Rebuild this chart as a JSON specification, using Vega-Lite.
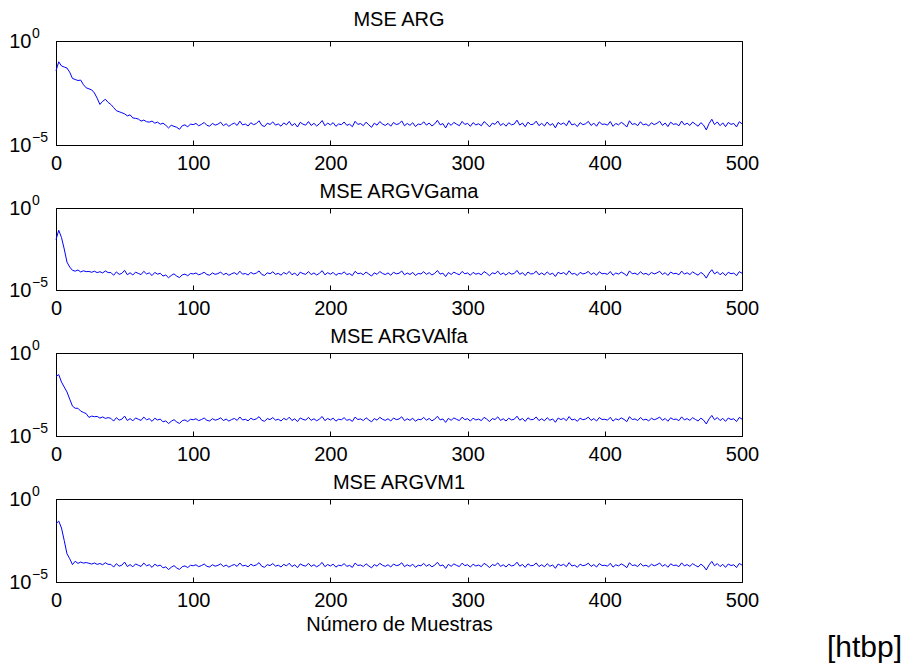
{
  "$schema": "https://vega.github.io/schema/vega-lite/v6.json",
  "padding": {"left": 8, "top": 9, "right": 0, "bottom": 0},
  "bounds": "flush",
  "spacing": 63,
  "title": {"text": "[htbp]", "orient": "bottom", "anchor": "end", "frame": "group", "fontSize": 30, "baseline": "alphabetic", "offset": 22, "dx": 160},
  "datasets": {
    "mse": [
      {"x":0,"a":0.0372,"b":0.012,"c":0.0389,"d":0.0324},
      {"x":2,"a":0.1,"b":0.0437,"c":0.0501,"d":0.0468},
      {"x":4,"a":0.0631,"b":0.0158,"c":0.0178,"d":0.0178},
      {"x":6,"a":0.0562,"b":0.00316,"c":0.00891,"d":0.00316},
      {"x":8,"a":0.0501,"b":0.000501,"c":0.00447,"d":0.000501},
      {"x":10,"a":0.0316,"b":0.000251,"c":0.00166,"d":0.000251},
      {"x":12,"a":0.0158,"b":0.000158,"c":0.000631,"d":0.000112},
      {"x":14,"a":0.0141,"b":0.000141,"c":0.000468,"d":0.000178},
      {"x":16,"a":0.0126,"b":0.000166,"c":0.000468,"d":0.000132},
      {"x":18,"a":0.0132,"b":0.000126,"c":0.000316,"d":0.000158},
      {"x":20,"a":0.00794,"b":0.000148,"c":0.000263,"d":0.000138},
      {"x":22,"a":0.00562,"b":0.000132,"c":0.000224,"d":0.000148},
      {"x":24,"a":0.00501,"b":0.000135,"c":0.000132,"d":0.000135},
      {"x":26,"a":0.00447,"b":0.00012,"c":0.000158,"d":0.00012},
      {"x":28,"a":0.00316,"b":0.00014,"c":0.000145,"d":0.00014},
      {"x":30,"a":0.00178,"b":0.000115,"c":0.000151,"d":0.000115},
      {"x":32,"a":0.000891,"b":0.00013,"c":0.00012,"d":0.00013},
      {"x":34,"a":0.00126,"b":0.00011,"c":0.000141,"d":0.00011},
      {"x":36,"a":0.00158,"b":0.000145,"c":0.000115,"d":0.000145},
      {"x":38,"a":0.00112,"b":0.000115,"c":0.000128,"d":0.000115},
      {"x":40,"a":0.000891,"b":1.16e-4,"c":1.16e-4,"d":1.16e-4},
      {"x":42,"a":0.000631,"b":7.9e-5,"c":7.9e-5,"d":7.9e-5},
      {"x":44,"a":0.000447,"b":1.27e-4,"c":1.27e-4,"d":1.27e-4},
      {"x":46,"a":0.000398,"b":9.0e-5,"c":9.0e-5,"d":9.0e-5},
      {"x":48,"a":0.000355,"b":1.03e-4,"c":1.03e-4,"d":1.03e-4},
      {"x":50,"a":0.000316,"b":1.58e-4,"c":1.58e-4,"d":1.58e-4},
      {"x":52,"a":0.000251,"b":8.5e-5,"c":8.5e-5,"d":8.5e-5},
      {"x":54,"a":0.000282,"b":1.12e-4,"c":1.12e-4,"d":1.12e-4},
      {"x":56,"a":0.0002,"b":8.2e-5,"c":8.2e-5,"d":8.2e-5},
      {"x":58,"a":0.000191,"b":1.23e-4,"c":1.23e-4,"d":1.23e-4},
      {"x":60,"a":0.000178,"b":1.02e-4,"c":1.02e-4,"d":1.02e-4},
      {"x":62,"a":0.000141,"b":8.7e-5,"c":8.7e-5,"d":8.7e-5},
      {"x":64,"a":0.000158,"b":1.38e-4,"c":1.38e-4,"d":1.38e-4},
      {"x":66,"a":0.000132,"b":9.5e-5,"c":9.5e-5,"d":9.5e-5},
      {"x":68,"a":0.000126,"b":1.1e-4,"c":1.1e-4,"d":1.1e-4},
      {"x":70,"a":0.000141,"b":7.6e-5,"c":7.6e-5,"d":7.6e-5},
      {"x":72,"a":0.000112,"b":1.18e-4,"c":1.18e-4,"d":1.18e-4},
      {"x":74,"a":0.000126,"b":9.2e-5,"c":9.2e-5,"d":9.2e-5},
      {"x":76,"a":0.0001,"b":1.05e-4,"c":1.05e-4,"d":1.05e-4},
      {"x":78,"a":0.000112,"b":7.1e-5,"c":7.1e-5,"d":7.1e-5},
      {"x":80,"a":8.9e-5,"b":8.2e-5,"c":8.2e-5,"d":8.2e-5},
      {"x":82,"a":6.6e-5,"b":5.6e-5,"c":5.6e-5,"d":5.6e-5},
      {"x":84,"a":8.9e-5,"b":7.7e-5,"c":7.7e-5,"d":7.7e-5},
      {"x":86,"a":7.9e-5,"b":9.7e-5,"c":9.7e-5,"d":9.7e-5},
      {"x":88,"a":7.1e-5,"b":7.0e-5,"c":7.0e-5,"d":7.0e-5},
      {"x":90,"a":5.7e-5,"b":5.7e-5,"c":5.7e-5,"d":5.7e-5},
      {"x":92,"a":8.4e-5,"b":8.4e-5,"c":8.4e-5,"d":8.4e-5},
      {"x":94,"a":9.3e-5,"b":9.3e-5,"c":9.3e-5,"d":9.3e-5},
      {"x":96,"a":7.4e-5,"b":7.4e-5,"c":7.4e-5,"d":7.4e-5},
      {"x":98,"a":1.02e-4,"b":1.02e-4,"c":1.02e-4,"d":1.02e-4},
      {"x":100,"a":9.5e-5,"b":9.5e-5,"c":9.5e-5,"d":9.5e-5},
      {"x":102,"a":1.09e-4,"b":1.09e-4,"c":1.09e-4,"d":1.09e-4},
      {"x":104,"a":8.4e-5,"b":8.4e-5,"c":8.4e-5,"d":8.4e-5},
      {"x":106,"a":9.8e-5,"b":9.8e-5,"c":9.8e-5,"d":9.8e-5},
      {"x":108,"a":1.21e-4,"b":1.21e-4,"c":1.21e-4,"d":1.21e-4},
      {"x":110,"a":8.8e-5,"b":8.8e-5,"c":8.8e-5,"d":8.8e-5},
      {"x":112,"a":8.0e-5,"b":8.0e-5,"c":8.0e-5,"d":8.0e-5},
      {"x":114,"a":1.1e-4,"b":1.1e-4,"c":1.1e-4,"d":1.1e-4},
      {"x":116,"a":9.0e-5,"b":9.0e-5,"c":9.0e-5,"d":9.0e-5},
      {"x":118,"a":1.0e-4,"b":1.0e-4,"c":1.0e-4,"d":1.0e-4},
      {"x":120,"a":1.25e-4,"b":1.25e-4,"c":1.25e-4,"d":1.25e-4},
      {"x":122,"a":8.5e-5,"b":8.5e-5,"c":8.5e-5,"d":8.5e-5},
      {"x":124,"a":1.05e-4,"b":1.05e-4,"c":1.05e-4,"d":1.05e-4},
      {"x":126,"a":7.9e-5,"b":7.9e-5,"c":7.9e-5,"d":7.9e-5},
      {"x":128,"a":9.8e-5,"b":9.8e-5,"c":9.8e-5,"d":9.8e-5},
      {"x":130,"a":1.14e-4,"b":1.14e-4,"c":1.14e-4,"d":1.14e-4},
      {"x":132,"a":8.7e-5,"b":8.7e-5,"c":8.7e-5,"d":8.7e-5},
      {"x":134,"a":1.4e-4,"b":1.4e-4,"c":1.4e-4,"d":1.4e-4},
      {"x":136,"a":9.2e-5,"b":9.2e-5,"c":9.2e-5,"d":9.2e-5},
      {"x":138,"a":1.02e-4,"b":1.02e-4,"c":1.02e-4,"d":1.02e-4},
      {"x":140,"a":8.2e-5,"b":8.2e-5,"c":8.2e-5,"d":8.2e-5},
      {"x":142,"a":1.18e-4,"b":1.18e-4,"c":1.18e-4,"d":1.18e-4},
      {"x":144,"a":9.5e-5,"b":9.5e-5,"c":9.5e-5,"d":9.5e-5},
      {"x":146,"a":1.07e-4,"b":1.07e-4,"c":1.07e-4,"d":1.07e-4},
      {"x":148,"a":1.46e-4,"b":1.46e-4,"c":1.46e-4,"d":1.46e-4},
      {"x":150,"a":8.8e-5,"b":8.8e-5,"c":8.8e-5,"d":8.8e-5},
      {"x":152,"a":7.7e-5,"b":7.7e-5,"c":7.7e-5,"d":7.7e-5},
      {"x":154,"a":1.12e-4,"b":1.12e-4,"c":1.12e-4,"d":1.12e-4},
      {"x":156,"a":9.7e-5,"b":9.7e-5,"c":9.7e-5,"d":9.7e-5},
      {"x":158,"a":1.29e-4,"b":1.29e-4,"c":1.29e-4,"d":1.29e-4},
      {"x":160,"a":9.0e-5,"b":9.0e-5,"c":9.0e-5,"d":9.0e-5},
      {"x":162,"a":1.03e-4,"b":1.03e-4,"c":1.03e-4,"d":1.03e-4},
      {"x":164,"a":8.0e-5,"b":8.0e-5,"c":8.0e-5,"d":8.0e-5},
      {"x":166,"a":1.16e-4,"b":1.16e-4,"c":1.16e-4,"d":1.16e-4},
      {"x":168,"a":9.3e-5,"b":9.3e-5,"c":9.3e-5,"d":9.3e-5},
      {"x":170,"a":1.36e-4,"b":1.36e-4,"c":1.36e-4,"d":1.36e-4},
      {"x":172,"a":8.5e-5,"b":8.5e-5,"c":8.5e-5,"d":8.5e-5},
      {"x":174,"a":1.09e-4,"b":1.09e-4,"c":1.09e-4,"d":1.09e-4},
      {"x":176,"a":7.3e-5,"b":7.3e-5,"c":7.3e-5,"d":7.3e-5},
      {"x":178,"a":1.23e-4,"b":1.23e-4,"c":1.23e-4,"d":1.23e-4},
      {"x":180,"a":1.0e-4,"b":1.0e-4,"c":1.0e-4,"d":1.0e-4},
      {"x":182,"a":9.0e-5,"b":9.0e-5,"c":9.0e-5,"d":9.0e-5},
      {"x":184,"a":1.33e-4,"b":1.33e-4,"c":1.33e-4,"d":1.33e-4},
      {"x":186,"a":8.7e-5,"b":8.7e-5,"c":8.7e-5,"d":8.7e-5},
      {"x":188,"a":1.1e-4,"b":1.1e-4,"c":1.1e-4,"d":1.1e-4},
      {"x":190,"a":8.2e-5,"b":8.2e-5,"c":8.2e-5,"d":8.2e-5},
      {"x":192,"a":1.05e-4,"b":1.05e-4,"c":1.05e-4,"d":1.05e-4},
      {"x":194,"a":1.5e-4,"b":1.5e-4,"c":1.5e-4,"d":1.5e-4},
      {"x":196,"a":8.4e-5,"b":8.4e-5,"c":8.4e-5,"d":8.4e-5},
      {"x":198,"a":1.14e-4,"b":1.14e-4,"c":1.14e-4,"d":1.14e-4},
      {"x":200,"a":9.2e-5,"b":9.2e-5,"c":9.2e-5,"d":9.2e-5},
      {"x":202,"a":1.19e-4,"b":1.19e-4,"c":1.19e-4,"d":1.19e-4},
      {"x":204,"a":7.9e-5,"b":7.9e-5,"c":7.9e-5,"d":7.9e-5},
      {"x":206,"a":1.03e-4,"b":1.03e-4,"c":1.03e-4,"d":1.03e-4},
      {"x":208,"a":9.5e-5,"b":9.5e-5,"c":9.5e-5,"d":9.5e-5},
      {"x":210,"a":1.27e-4,"b":1.27e-4,"c":1.27e-4,"d":1.27e-4},
      {"x":212,"a":8.8e-5,"b":8.8e-5,"c":8.8e-5,"d":8.8e-5},
      {"x":214,"a":1.0e-4,"b":1.0e-4,"c":1.0e-4,"d":1.0e-4},
      {"x":216,"a":7.6e-5,"b":7.6e-5,"c":7.6e-5,"d":7.6e-5},
      {"x":218,"a":1.38e-4,"b":1.38e-4,"c":1.38e-4,"d":1.38e-4},
      {"x":220,"a":9.8e-5,"b":9.8e-5,"c":9.8e-5,"d":9.8e-5},
      {"x":222,"a":1.07e-4,"b":1.07e-4,"c":1.07e-4,"d":1.07e-4},
      {"x":224,"a":8.5e-5,"b":8.5e-5,"c":8.5e-5,"d":8.5e-5},
      {"x":226,"a":1.25e-4,"b":1.25e-4,"c":1.25e-4,"d":1.25e-4},
      {"x":228,"a":9.3e-5,"b":9.3e-5,"c":9.3e-5,"d":9.3e-5},
      {"x":230,"a":7.1e-5,"b":7.1e-5,"c":7.1e-5,"d":7.1e-5},
      {"x":232,"a":1.12e-4,"b":1.12e-4,"c":1.12e-4,"d":1.12e-4},
      {"x":234,"a":9.0e-5,"b":9.0e-5,"c":9.0e-5,"d":9.0e-5},
      {"x":236,"a":1.34e-4,"b":1.34e-4,"c":1.34e-4,"d":1.34e-4},
      {"x":238,"a":1.02e-4,"b":1.02e-4,"c":1.02e-4,"d":1.02e-4},
      {"x":240,"a":8.7e-5,"b":8.7e-5,"c":8.7e-5,"d":8.7e-5},
      {"x":242,"a":1.1e-4,"b":1.1e-4,"c":1.1e-4,"d":1.1e-4},
      {"x":244,"a":8.0e-5,"b":8.0e-5,"c":8.0e-5,"d":8.0e-5},
      {"x":246,"a":1.21e-4,"b":1.21e-4,"c":1.21e-4,"d":1.21e-4},
      {"x":248,"a":9.7e-5,"b":9.7e-5,"c":9.7e-5,"d":9.7e-5},
      {"x":250,"a":1.05e-4,"b":1.05e-4,"c":1.05e-4,"d":1.05e-4},
      {"x":252,"a":1.44e-4,"b":1.44e-4,"c":1.44e-4,"d":1.44e-4},
      {"x":254,"a":8.4e-5,"b":8.4e-5,"c":8.4e-5,"d":8.4e-5},
      {"x":256,"a":1.09e-4,"b":1.09e-4,"c":1.09e-4,"d":1.09e-4},
      {"x":258,"a":8.8e-5,"b":8.8e-5,"c":8.8e-5,"d":8.8e-5},
      {"x":260,"a":1.18e-4,"b":1.18e-4,"c":1.18e-4,"d":1.18e-4},
      {"x":262,"a":7.7e-5,"b":7.7e-5,"c":7.7e-5,"d":7.7e-5},
      {"x":264,"a":1.02e-4,"b":1.02e-4,"c":1.02e-4,"d":1.02e-4},
      {"x":266,"a":9.5e-5,"b":9.5e-5,"c":9.5e-5,"d":9.5e-5},
      {"x":268,"a":1.31e-4,"b":1.31e-4,"c":1.31e-4,"d":1.31e-4},
      {"x":270,"a":9.0e-5,"b":9.0e-5,"c":9.0e-5,"d":9.0e-5},
      {"x":272,"a":1.14e-4,"b":1.14e-4,"c":1.14e-4,"d":1.14e-4},
      {"x":274,"a":8.2e-5,"b":8.2e-5,"c":8.2e-5,"d":8.2e-5},
      {"x":276,"a":1.03e-4,"b":1.03e-4,"c":1.03e-4,"d":1.03e-4},
      {"x":278,"a":1.54e-4,"b":1.54e-4,"c":1.54e-4,"d":1.54e-4},
      {"x":280,"a":9.3e-5,"b":9.3e-5,"c":9.3e-5,"d":9.3e-5},
      {"x":282,"a":1.07e-4,"b":1.07e-4,"c":1.07e-4,"d":1.07e-4},
      {"x":284,"a":6.6e-5,"b":6.6e-5,"c":6.6e-5,"d":6.6e-5},
      {"x":286,"a":1.16e-4,"b":1.16e-4,"c":1.16e-4,"d":1.16e-4},
      {"x":288,"a":8.8e-5,"b":8.8e-5,"c":8.8e-5,"d":8.8e-5},
      {"x":290,"a":1.23e-4,"b":1.23e-4,"c":1.23e-4,"d":1.23e-4},
      {"x":292,"a":1.0e-4,"b":1.0e-4,"c":1.0e-4,"d":1.0e-4},
      {"x":294,"a":8.5e-5,"b":8.5e-5,"c":8.5e-5,"d":8.5e-5},
      {"x":296,"a":1.36e-4,"b":1.36e-4,"c":1.36e-4,"d":1.36e-4},
      {"x":298,"a":9.7e-5,"b":9.7e-5,"c":9.7e-5,"d":9.7e-5},
      {"x":300,"a":1.1e-4,"b":1.1e-4,"c":1.1e-4,"d":1.1e-4},
      {"x":302,"a":7.9e-5,"b":7.9e-5,"c":7.9e-5,"d":7.9e-5},
      {"x":304,"a":1.19e-4,"b":1.19e-4,"c":1.19e-4,"d":1.19e-4},
      {"x":306,"a":9.2e-5,"b":9.2e-5,"c":9.2e-5,"d":9.2e-5},
      {"x":308,"a":1.05e-4,"b":1.05e-4,"c":1.05e-4,"d":1.05e-4},
      {"x":310,"a":8.4e-5,"b":8.4e-5,"c":8.4e-5,"d":8.4e-5},
      {"x":312,"a":1.33e-4,"b":1.33e-4,"c":1.33e-4,"d":1.33e-4},
      {"x":314,"a":1.03e-4,"b":1.03e-4,"c":1.03e-4,"d":1.03e-4},
      {"x":316,"a":7.4e-5,"b":7.4e-5,"c":7.4e-5,"d":7.4e-5},
      {"x":318,"a":1.12e-4,"b":1.12e-4,"c":1.12e-4,"d":1.12e-4},
      {"x":320,"a":9.8e-5,"b":9.8e-5,"c":9.8e-5,"d":9.8e-5},
      {"x":322,"a":1.42e-4,"b":1.42e-4,"c":1.42e-4,"d":1.42e-4},
      {"x":324,"a":8.7e-5,"b":8.7e-5,"c":8.7e-5,"d":8.7e-5},
      {"x":326,"a":1.09e-4,"b":1.09e-4,"c":1.09e-4,"d":1.09e-4},
      {"x":328,"a":8.0e-5,"b":8.0e-5,"c":8.0e-5,"d":8.0e-5},
      {"x":330,"a":1.18e-4,"b":1.18e-4,"c":1.18e-4,"d":1.18e-4},
      {"x":332,"a":9.3e-5,"b":9.3e-5,"c":9.3e-5,"d":9.3e-5},
      {"x":334,"a":1.02e-4,"b":1.02e-4,"c":1.02e-4,"d":1.02e-4},
      {"x":336,"a":1.56e-4,"b":1.56e-4,"c":1.56e-4,"d":1.56e-4},
      {"x":338,"a":9.0e-5,"b":9.0e-5,"c":9.0e-5,"d":9.0e-5},
      {"x":340,"a":1.14e-4,"b":1.14e-4,"c":1.14e-4,"d":1.14e-4},
      {"x":342,"a":7.6e-5,"b":7.6e-5,"c":7.6e-5,"d":7.6e-5},
      {"x":344,"a":1.25e-4,"b":1.25e-4,"c":1.25e-4,"d":1.25e-4},
      {"x":346,"a":9.5e-5,"b":9.5e-5,"c":9.5e-5,"d":9.5e-5},
      {"x":348,"a":1.0e-4,"b":1.0e-4,"c":1.0e-4,"d":1.0e-4},
      {"x":350,"a":1.4e-4,"b":1.4e-4,"c":1.4e-4,"d":1.4e-4},
      {"x":352,"a":8.5e-5,"b":8.5e-5,"c":8.5e-5,"d":8.5e-5},
      {"x":354,"a":1.1e-4,"b":1.1e-4,"c":1.1e-4,"d":1.1e-4},
      {"x":356,"a":8.2e-5,"b":8.2e-5,"c":8.2e-5,"d":8.2e-5},
      {"x":358,"a":1.27e-4,"b":1.27e-4,"c":1.27e-4,"d":1.27e-4},
      {"x":360,"a":8.8e-5,"b":8.8e-5,"c":8.8e-5,"d":8.8e-5},
      {"x":362,"a":1.07e-4,"b":1.07e-4,"c":1.07e-4,"d":1.07e-4},
      {"x":364,"a":6.7e-5,"b":6.7e-5,"c":6.7e-5,"d":6.7e-5},
      {"x":366,"a":1.21e-4,"b":1.21e-4,"c":1.21e-4,"d":1.21e-4},
      {"x":368,"a":9.7e-5,"b":9.7e-5,"c":9.7e-5,"d":9.7e-5},
      {"x":370,"a":1.16e-4,"b":1.16e-4,"c":1.16e-4,"d":1.16e-4},
      {"x":372,"a":8.4e-5,"b":8.4e-5,"c":8.4e-5,"d":8.4e-5},
      {"x":374,"a":1.48e-4,"b":1.48e-4,"c":1.48e-4,"d":1.48e-4},
      {"x":376,"a":9.2e-5,"b":9.2e-5,"c":9.2e-5,"d":9.2e-5},
      {"x":378,"a":1.03e-4,"b":1.03e-4,"c":1.03e-4,"d":1.03e-4},
      {"x":380,"a":7.7e-5,"b":7.7e-5,"c":7.7e-5,"d":7.7e-5},
      {"x":382,"a":1.19e-4,"b":1.19e-4,"c":1.19e-4,"d":1.19e-4},
      {"x":384,"a":9.5e-5,"b":9.5e-5,"c":9.5e-5,"d":9.5e-5},
      {"x":386,"a":1.05e-4,"b":1.05e-4,"c":1.05e-4,"d":1.05e-4},
      {"x":388,"a":1.36e-4,"b":1.36e-4,"c":1.36e-4,"d":1.36e-4},
      {"x":390,"a":8.7e-5,"b":8.7e-5,"c":8.7e-5,"d":8.7e-5},
      {"x":392,"a":1.12e-4,"b":1.12e-4,"c":1.12e-4,"d":1.12e-4},
      {"x":394,"a":8.0e-5,"b":8.0e-5,"c":8.0e-5,"d":8.0e-5},
      {"x":396,"a":1.29e-4,"b":1.29e-4,"c":1.29e-4,"d":1.29e-4},
      {"x":398,"a":9.8e-5,"b":9.8e-5,"c":9.8e-5,"d":9.8e-5},
      {"x":400,"a":1.02e-4,"b":1.02e-4,"c":1.02e-4,"d":1.02e-4},
      {"x":402,"a":9.0e-5,"b":9.0e-5,"c":9.0e-5,"d":9.0e-5},
      {"x":404,"a":1.34e-4,"b":1.34e-4,"c":1.34e-4,"d":1.34e-4},
      {"x":406,"a":7.9e-5,"b":7.9e-5,"c":7.9e-5,"d":7.9e-5},
      {"x":408,"a":1.09e-4,"b":1.09e-4,"c":1.09e-4,"d":1.09e-4},
      {"x":410,"a":9.3e-5,"b":9.3e-5,"c":9.3e-5,"d":9.3e-5},
      {"x":412,"a":1.23e-4,"b":1.23e-4,"c":1.23e-4,"d":1.23e-4},
      {"x":414,"a":1.0e-4,"b":1.0e-4,"c":1.0e-4,"d":1.0e-4},
      {"x":416,"a":7.3e-5,"b":7.3e-5,"c":7.3e-5,"d":7.3e-5},
      {"x":418,"a":1.46e-4,"b":1.46e-4,"c":1.46e-4,"d":1.46e-4},
      {"x":420,"a":9.7e-5,"b":9.7e-5,"c":9.7e-5,"d":9.7e-5},
      {"x":422,"a":1.07e-4,"b":1.07e-4,"c":1.07e-4,"d":1.07e-4},
      {"x":424,"a":8.5e-5,"b":8.5e-5,"c":8.5e-5,"d":8.5e-5},
      {"x":426,"a":1.31e-4,"b":1.31e-4,"c":1.31e-4,"d":1.31e-4},
      {"x":428,"a":9.2e-5,"b":9.2e-5,"c":9.2e-5,"d":9.2e-5},
      {"x":430,"a":1.03e-4,"b":1.03e-4,"c":1.03e-4,"d":1.03e-4},
      {"x":432,"a":8.2e-5,"b":8.2e-5,"c":8.2e-5,"d":8.2e-5},
      {"x":434,"a":1.18e-4,"b":1.18e-4,"c":1.18e-4,"d":1.18e-4},
      {"x":436,"a":9.5e-5,"b":9.5e-5,"c":9.5e-5,"d":9.5e-5},
      {"x":438,"a":1.1e-4,"b":1.1e-4,"c":1.1e-4,"d":1.1e-4},
      {"x":440,"a":1.38e-4,"b":1.38e-4,"c":1.38e-4,"d":1.38e-4},
      {"x":442,"a":8.8e-5,"b":8.8e-5,"c":8.8e-5,"d":8.8e-5},
      {"x":444,"a":1.14e-4,"b":1.14e-4,"c":1.14e-4,"d":1.14e-4},
      {"x":446,"a":7.7e-5,"b":7.7e-5,"c":7.7e-5,"d":7.7e-5},
      {"x":448,"a":1.25e-4,"b":1.25e-4,"c":1.25e-4,"d":1.25e-4},
      {"x":450,"a":9.8e-5,"b":9.8e-5,"c":9.8e-5,"d":9.8e-5},
      {"x":452,"a":1.05e-4,"b":1.05e-4,"c":1.05e-4,"d":1.05e-4},
      {"x":454,"a":8.4e-5,"b":8.4e-5,"c":8.4e-5,"d":8.4e-5},
      {"x":456,"a":1.42e-4,"b":1.42e-4,"c":1.42e-4,"d":1.42e-4},
      {"x":458,"a":9.3e-5,"b":9.3e-5,"c":9.3e-5,"d":9.3e-5},
      {"x":460,"a":1.12e-4,"b":1.12e-4,"c":1.12e-4,"d":1.12e-4},
      {"x":462,"a":8.7e-5,"b":8.7e-5,"c":8.7e-5,"d":8.7e-5},
      {"x":464,"a":1.27e-4,"b":1.27e-4,"c":1.27e-4,"d":1.27e-4},
      {"x":466,"a":1.0e-4,"b":1.0e-4,"c":1.0e-4,"d":1.0e-4},
      {"x":468,"a":8.0e-5,"b":8.0e-5,"c":8.0e-5,"d":8.0e-5},
      {"x":470,"a":1.19e-4,"b":1.19e-4,"c":1.19e-4,"d":1.19e-4},
      {"x":472,"a":9.0e-5,"b":9.0e-5,"c":9.0e-5,"d":9.0e-5},
      {"x":474,"a":5.3e-5,"b":5.3e-5,"c":5.3e-5,"d":5.3e-5},
      {"x":476,"a":1.07e-4,"b":1.07e-4,"c":1.07e-4,"d":1.07e-4},
      {"x":478,"a":1.73e-4,"b":1.73e-4,"c":1.73e-4,"d":1.73e-4},
      {"x":480,"a":9.5e-5,"b":9.5e-5,"c":9.5e-5,"d":9.5e-5},
      {"x":482,"a":1.29e-4,"b":1.29e-4,"c":1.29e-4,"d":1.29e-4},
      {"x":484,"a":8.5e-5,"b":8.5e-5,"c":8.5e-5,"d":8.5e-5},
      {"x":486,"a":1.16e-4,"b":1.16e-4,"c":1.16e-4,"d":1.16e-4},
      {"x":488,"a":7.6e-5,"b":7.6e-5,"c":7.6e-5,"d":7.6e-5},
      {"x":490,"a":1.21e-4,"b":1.21e-4,"c":1.21e-4,"d":1.21e-4},
      {"x":492,"a":9.8e-5,"b":9.8e-5,"c":9.8e-5,"d":9.8e-5},
      {"x":494,"a":1.09e-4,"b":1.09e-4,"c":1.09e-4,"d":1.09e-4},
      {"x":496,"a":7.4e-5,"b":7.4e-5,"c":7.4e-5,"d":7.4e-5},
      {"x":498,"a":1.31e-4,"b":1.31e-4,"c":1.31e-4,"d":1.31e-4},
      {"x":500,"a":1.05e-4,"b":1.05e-4,"c":1.05e-4,"d":1.05e-4}
    ]
  },
  "vconcat": [
    {
      "title": {"text": "MSE ARG", "offset": -19, "baseline": "alphabetic"},
      "width": 686,
      "height": 104,
      "data": {"name": "mse"},
      "layer": [
        {
          "mark": {"type": "line", "stroke": "#0000ff", "strokeWidth": 1},
          "encoding": {
            "x": {"field": "x", "type": "quantitative", "scale": {"domain": [0, 500], "nice": false}, "axis": {"orient": "bottom", "values": [0, 100, 200, 300, 400, 500], "title": null}},
            "y": {"field": "a", "type": "quantitative", "scale": {"type": "log", "domain": [0.00001, 1], "nice": false}, "axis": {"values": [0.00001, 1], "labelExpr": "'10'", "title": null}}
          }
        },
        {
          "mark": {"type": "line", "opacity": 0},
          "encoding": {
            "x": {"field": "x", "type": "quantitative", "axis": {"orient": "top", "values": [0, 100, 200, 300, 400, 500], "labels": false, "title": null}},
            "y": {"field": "a", "type": "quantitative"}
          }
        },
        {
          "data": {"values": [{"a": 1, "e": "0"}, {"a": 0.00001, "e": "−5"}]},
          "mark": {"type": "text", "align": "left", "baseline": "alphabetic", "dx": -24, "dy": -3, "fontSize": 14},
          "encoding": {
            "x": {"datum": 0, "type": "quantitative", "axis": null},
            "y": {"field": "a", "type": "quantitative"},
            "text": {"field": "e"}
          }
        }
      ],
      "resolve": {"axis": {"x": "independent"}}
    },
    {
      "title": {"text": "MSE ARGVGama", "offset": -24, "baseline": "alphabetic"},
      "width": 686,
      "height": 82,
      "data": {"name": "mse"},
      "layer": [
        {
          "mark": {"type": "line", "stroke": "#0000ff", "strokeWidth": 1},
          "encoding": {
            "x": {"field": "x", "type": "quantitative", "scale": {"domain": [0, 500], "nice": false}, "axis": {"orient": "bottom", "values": [0, 100, 200, 300, 400, 500], "title": null}},
            "y": {"field": "b", "type": "quantitative", "scale": {"type": "log", "domain": [0.00001, 1], "nice": false}, "axis": {"values": [0.00001, 1], "labelExpr": "'10'", "title": null}}
          }
        },
        {
          "mark": {"type": "line", "opacity": 0},
          "encoding": {
            "x": {"field": "x", "type": "quantitative", "axis": {"orient": "top", "values": [0, 100, 200, 300, 400, 500], "labels": false, "title": null}},
            "y": {"field": "b", "type": "quantitative"}
          }
        },
        {
          "data": {"values": [{"b": 1, "e": "0"}, {"b": 0.00001, "e": "−5"}]},
          "mark": {"type": "text", "align": "left", "baseline": "alphabetic", "dx": -24, "dy": -3, "fontSize": 14},
          "encoding": {
            "x": {"datum": 0, "type": "quantitative", "axis": null},
            "y": {"field": "b", "type": "quantitative"},
            "text": {"field": "e"}
          }
        }
      ],
      "resolve": {"axis": {"x": "independent"}}
    },
    {
      "title": {"text": "MSE ARGVAlfa", "offset": -24, "baseline": "alphabetic"},
      "width": 686,
      "height": 83,
      "data": {"name": "mse"},
      "layer": [
        {
          "mark": {"type": "line", "stroke": "#0000ff", "strokeWidth": 1},
          "encoding": {
            "x": {"field": "x", "type": "quantitative", "scale": {"domain": [0, 500], "nice": false}, "axis": {"orient": "bottom", "values": [0, 100, 200, 300, 400, 500], "title": null}},
            "y": {"field": "c", "type": "quantitative", "scale": {"type": "log", "domain": [0.00001, 1], "nice": false}, "axis": {"values": [0.00001, 1], "labelExpr": "'10'", "title": null}}
          }
        },
        {
          "mark": {"type": "line", "opacity": 0},
          "encoding": {
            "x": {"field": "x", "type": "quantitative", "axis": {"orient": "top", "values": [0, 100, 200, 300, 400, 500], "labels": false, "title": null}},
            "y": {"field": "c", "type": "quantitative"}
          }
        },
        {
          "data": {"values": [{"c": 1, "e": "0"}, {"c": 0.00001, "e": "−5"}]},
          "mark": {"type": "text", "align": "left", "baseline": "alphabetic", "dx": -24, "dy": -3, "fontSize": 14},
          "encoding": {
            "x": {"datum": 0, "type": "quantitative", "axis": null},
            "y": {"field": "c", "type": "quantitative"},
            "text": {"field": "e"}
          }
        }
      ],
      "resolve": {"axis": {"x": "independent"}}
    },
    {
      "title": {"text": "MSE ARGVM1", "offset": -24, "baseline": "alphabetic"},
      "width": 686,
      "height": 83,
      "data": {"name": "mse"},
      "layer": [
        {
          "mark": {"type": "line", "stroke": "#0000ff", "strokeWidth": 1},
          "encoding": {
            "x": {"field": "x", "type": "quantitative", "scale": {"domain": [0, 500], "nice": false}, "axis": {"orient": "bottom", "values": [0, 100, 200, 300, 400, 500], "title": "Número de Muestras", "titlePadding": 4}},
            "y": {"field": "d", "type": "quantitative", "scale": {"type": "log", "domain": [0.00001, 1], "nice": false}, "axis": {"values": [0.00001, 1], "labelExpr": "'10'", "title": null}}
          }
        },
        {
          "mark": {"type": "line", "opacity": 0},
          "encoding": {
            "x": {"field": "x", "type": "quantitative", "axis": {"orient": "top", "values": [0, 100, 200, 300, 400, 500], "labels": false, "title": null}},
            "y": {"field": "d", "type": "quantitative"}
          }
        },
        {
          "data": {"values": [{"d": 1, "e": "0"}, {"d": 0.00001, "e": "−5"}]},
          "mark": {"type": "text", "align": "left", "baseline": "alphabetic", "dx": -24, "dy": -3, "fontSize": 14},
          "encoding": {
            "x": {"datum": 0, "type": "quantitative", "axis": null},
            "y": {"field": "d", "type": "quantitative"},
            "text": {"field": "e"}
          }
        }
      ],
      "resolve": {"axis": {"x": "independent"}}
    }
  ],
  "config": {
    "font": "Liberation Sans",
    "background": "white",
    "view": {"stroke": "black", "strokeWidth": 1},
    "axis": {
      "labelFont": "Liberation Sans",
      "labelFontSize": 20,
      "labelColor": "black",
      "domainColor": "black",
      "domainWidth": 1,
      "tickColor": "black",
      "tickWidth": 1,
      "grid": false,
      "titleFont": "Liberation Sans",
      "titleFontSize": 20,
      "titleFontWeight": "normal",
      "titleColor": "black",
      "labelFlush": false,
      "labelOverlap": false
    },
    "axisX": {"tickSize": -5, "labelPadding": 13},
    "axisY": {"ticks": false, "tickSize": 0, "labelPadding": 25, "labelAlign": "right", "labelBaseline": "middle"},
    "title": {"font": "Liberation Sans", "fontSize": 20, "fontWeight": "normal", "color": "black"},
    "text": {"font": "Liberation Sans", "color": "black"}
  }
}
